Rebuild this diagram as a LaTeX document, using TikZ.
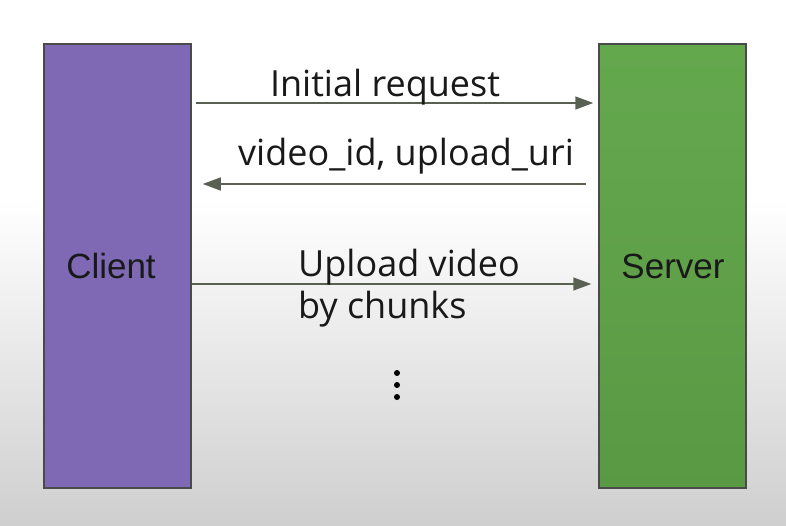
\documentclass[tikz,border=0pt]{standalone}
\usepackage{fontspec}
\setmainfont{Open Sans}
\newfontfamily\boxfont{Liberation Sans}
\usetikzlibrary{arrows.meta}

\definecolor{clientfill}{HTML}{7F69B4}
\definecolor{servertop}{HTML}{64A84E}
\definecolor{serverbottom}{HTML}{5A9944}
\definecolor{boxline}{HTML}{4A4A4A}
\definecolor{msgline}{HTML}{5B6152}

\tikzset{
  party/.style={draw=boxline, line width=1.5pt, minimum width=147pt, minimum height=444pt, inner sep=0pt},
  partytext/.style={font=\boxfont\fontsize{35}{42}\selectfont, text=black!90, inner sep=0pt, anchor=base},
  msg/.style={draw=msgline, line width=1.5pt, -{Triangle[length=18pt,width=13pt]}},
  msgtext/.style={font=\fontsize{36}{41.5}\selectfont, text=black!90, inner sep=0pt, anchor=base}
}

\begin{document}
\begin{tikzpicture}[x=1pt,y=-1pt]
\useasboundingbox (0,0) rectangle (786,526);
\fill[white] (0,0) rectangle (786,200);
\shade[top color=white, bottom color=black!19] (0,200) rectangle (786,526);

\node[party, fill=clientfill] (client) at (117.5,266) {};
\node[party, top color=servertop, bottom color=serverbottom] (server) at (672.5,266) {};
\node[partytext] (clientname) at (111,279) {Client};
\node[partytext] (servername) at (673,279) {Server};

\coordinate (row1) at (0,103);
\coordinate (row2) at (0,184);
\coordinate (row3) at (0,284);

\draw[msg] ([xshift=4pt]client.east |- row1) -- ([xshift=-5pt]server.west |- row1);
\draw[msg] ([xshift=-12pt]server.west |- row2) -- ([xshift=11pt]client.east |- row2);
\draw[msg] (client.east |- row3) -- ([xshift=-7pt]server.west |- row3);

\node[msgtext] (req) at (385,97) {Initial request};
\node[msgtext] (resp) at (406,166) {video\_id, upload\_uri};
\node[msgtext, anchor=base west, align=left] (chunks) at (298,318) {Upload video\\by chunks};

% more messages
\foreach \y in {373,385,397}
  \fill (397,\y) circle (3pt);
\end{tikzpicture}
\end{document}
